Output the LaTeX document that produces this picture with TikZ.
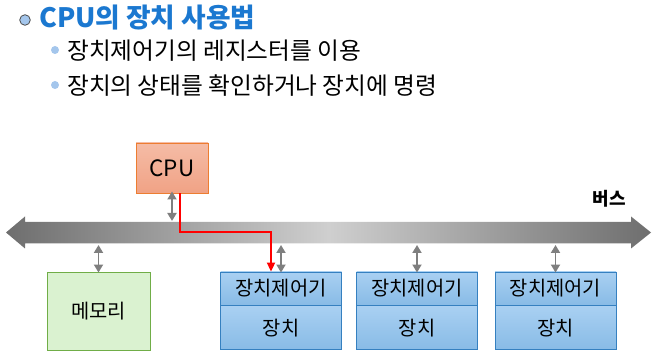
\documentclass[tikz,border=0pt]{standalone}
\usepackage{fontspec}
\setmainfont{Noto Sans CJK KR}
\usetikzlibrary{arrows.meta}
\definecolor{titleblue}{HTML}{1B78D0}
\definecolor{bulletblue}{HTML}{A4C6EC}
\definecolor{cpuborder}{HTML}{ED7D31}
\definecolor{cputop}{HTML}{F5BCA6}
\definecolor{cpubot}{HTML}{F0A285}
\definecolor{memfill}{HTML}{DAF2D0}
\definecolor{memborder}{HTML}{70AD47}
\definecolor{devborder}{HTML}{3580C0}
\definecolor{devtop}{HTML}{A9D0F2}
\definecolor{devbot}{HTML}{88BBE6}
\definecolor{busdark}{HTML}{6E6E6E}
\definecolor{buslight}{HTML}{CFCFCF}
\definecolor{smallarrow}{HTML}{7F7F7F}
\tikzset{
  boxtext/.style={font=\fontsize{19.8}{22}\selectfont, text=black, inner sep=0pt},
  devpart/.style={boxtext, draw=devborder, line width=0.9pt, top color=devtop, bottom color=devbot, minimum width=121pt},
  biarrow/.style={draw=smallarrow, line width=1.8pt, {Triangle[width=9pt,length=8pt]}-{Triangle[width=9pt,length=8pt]}},
  redarrow/.style={draw=red, line width=2pt, -{Triangle[width=8pt,length=9pt]}},
  subtext/.style={font=\fontsize{23.7}{26}\selectfont, anchor=base west, inner sep=0pt},
}
\begin{document}
\begin{tikzpicture}[x=1pt,y=-1pt]
\useasboundingbox (0,0) rectangle (653,355);
% title
\draw[fill=bulletblue, draw=black!70, line width=0.8pt] (25,20) circle (5.3pt);
\node[anchor=base west, inner sep=0pt, text=titleblue, font=\fontsize{26.7}{28}\selectfont\bfseries] (title) at (39,28) {CPU의 장치 사용법};
\fill[bulletblue] (55,50) circle (4pt);
\node[subtext] (s1) at (67,60) {장치제어기의 레지스터를 이용};
\fill[bulletblue] (55,85) circle (4pt);
\node[subtext] (s2) at (67,95) {장치의 상태를 확인하거나 장치에 명령};
% bus
\shade[left color=busdark, right color=busdark, middle color=buslight]
  (6,232.5) -- (25,216.5) -- (25,222) -- (631,222) -- (631,216.5) -- (651,232.5) -- (631,248.5) -- (631,243.5) -- (25,243.5) -- (25,248.5) -- cycle;
\node[anchor=base east, inner sep=0pt, font=\fontsize{18}{19}\selectfont\bfseries] (bus) at (626,206) {버스};
\coordinate (bustop) at (0,221);
\coordinate (busbot) at (0,245);
% CPU
\node[boxtext, draw=cpuborder, line width=0.9pt, top color=cputop, bottom color=cpubot, minimum width=72pt, minimum height=50pt, font=\fontsize{22.5}{24}\selectfont] (cpu) at (172,168) {CPU};
% memory
\node[boxtext, draw=memborder, line width=0.9pt, fill=memfill, minimum width=103pt, minimum height=78pt] (mem) at (98.5,311) {메모리};
% devices
\foreach \i/\x in {1/281, 2/417, 3/555.5}{
  \node[devpart, minimum height=33pt] (d\i h) at (\x,288.5) {장치제어기};
  \node[devpart, minimum height=44pt, anchor=north] (d\i b) at (d\i h.south) {장치};
  \draw[biarrow] (d\i h.north |- busbot) -- ([yshift=-1pt]d\i h.north);
}
\draw[biarrow] (mem.north |- busbot) -- ([yshift=-1pt]mem.north);
\draw[biarrow] ([yshift=2pt]cpu.south) -- (cpu.south |- bustop);
% red path
\coordinate (rstart) at ([xshift=8pt]cpu.south);
\coordinate (rend) at ([xshift=-10pt]d1h.north);
\draw[redarrow] (rstart) -- (rstart |- 0,232.5) -- (rend |- 0,232.5) -- (rend);
\end{tikzpicture}
\end{document}
